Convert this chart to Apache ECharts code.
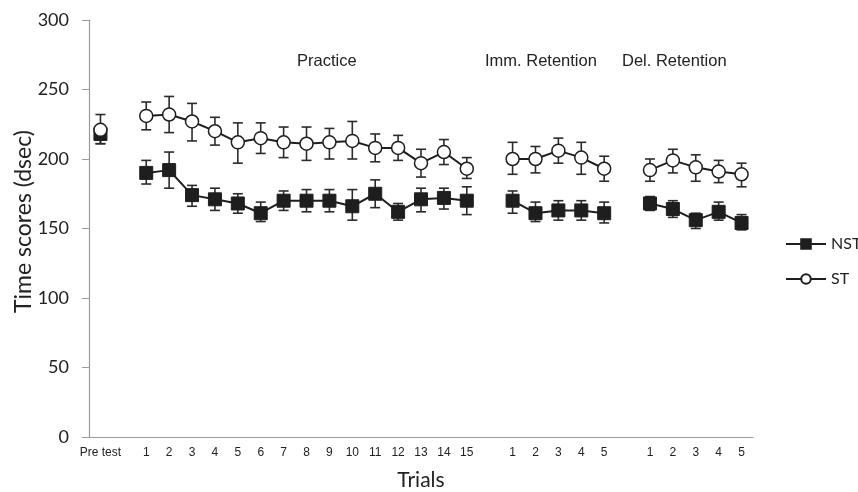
<!DOCTYPE html>
<html>
<head>
<meta charset="utf-8">
<script src="https://cdn.jsdelivr.net/npm/echarts@6/dist/echarts.min.js"></script>
<style>
  html, body { margin: 0; padding: 0; background: #fff; }
  #chart { width: 858px; height: 492px; }
</style>
</head>
<body>
<div id="chart"></div>
<script>
// trial labels, '' = gap between phases
var categories = ['Pre test', '',
  '1', '2', '3', '4', '5', '6', '7', '8', '9', '10', '11', '12', '13', '14', '15', '',
  '1', '2', '3', '4', '5', '',
  '1', '2', '3', '4', '5'];

var nstMean = [218, null, 190, 192, 174, 171, 168, 161, 170, 170, 170, 166, 175, 162, 171, 172, 170, null, 170, 161, 163, 163, 161, null, 168, 164, 156, 162, 154];
var nstHigh = [223, null, 199, 205, 181, 179, 175, 169, 177, 178, 178, 178, 185, 168, 179, 179, 180, null, 177, 169, 170, 170, 169, null, 173, 170, 161, 169, 160];
var nstLow  = [211, null, 182, 179, 166, 163, 161, 155, 163, 162, 162, 156, 165, 156, 162, 164, 160, null, 161, 155, 156, 156, 154, null, 163, 158, 150, 156, 149];

var stMean = [221, null, 231, 232, 227, 220, 212, 215, 212, 211, 212, 213, 208, 208, 197, 205, 193, null, 200, 200, 206, 201, 193, null, 192, 199, 194, 191, 189];
var stHigh = [232, null, 241, 245, 240, 230, 226, 226, 223, 223, 222, 227, 218, 217, 207, 214, 201, null, 212, 209, 215, 212, 202, null, 200, 207, 203, 199, 197];
var stLow  = [211, null, 221, 219, 213, 210, 197, 204, 201, 199, 200, 200, 198, 199, 187, 196, 186, null, 189, 190, 197, 189, 184, null, 184, 190, 184, 183, 180];

var phaseLabels = ['Practice', 'Imm. Retention', 'Del. Retention'];
var yTicks = { min: 0, max: 300, interval: 50 };

function errData(lo, hi) {
  var out = [];
  for (var i = 0; i < lo.length; i++) {
    if (lo[i] != null) out.push([i, lo[i], hi[i]]);
  }
  return out;
}

function renderErr(params, api) {
  var x = api.value(0);
  var lo = api.coord([x, api.value(1)]);
  var hi = api.coord([x, api.value(2)]);
  var w = 5;
  var style = { stroke: '#2b2b2b', lineWidth: 1.6 };
  return {
    type: 'group',
    children: [
      { type: 'line', shape: { x1: hi[0], y1: hi[1], x2: lo[0], y2: lo[1] }, style: style },
      { type: 'line', shape: { x1: hi[0] - w, y1: hi[1], x2: hi[0] + w, y2: hi[1] }, style: style },
      { type: 'line', shape: { x1: lo[0] - w, y1: lo[1], x2: lo[0] + w, y2: lo[1] }, style: style }
    ]
  };
}

var myChart = echarts.init(document.getElementById('chart'), null, { renderer: 'canvas' });

var option = {
  backgroundColor: '#fff',
  animation: false,
  grid: { left: 89, right: 105, top: 20, bottom: 55, outerBoundsMode: 'none', containLabel: false },
  legend: {
    orient: 'vertical',
    left: 780,
    top: 231,
    itemWidth: 40,
    itemHeight: 12,
    itemGap: 19,
    data: ['NST', 'ST'],
    textStyle: { fontFamily: 'Lato', fontSize: 16, color: '#222' }
  },
  graphic: [
    { type: 'text', left: 297, top: 53, style: { text: phaseLabels[0], font: '16.5px "Liberation Sans"', fill: '#222' } },
    { type: 'text', left: 485, top: 53, style: { text: phaseLabels[1], font: '16.5px "Liberation Sans"', fill: '#222' } },
    { type: 'text', left: 622, top: 53, style: { text: phaseLabels[2], font: '16.5px "Liberation Sans"', fill: '#222' } }
  ],
  xAxis: {
    type: 'category',
    data: categories,
    boundaryGap: true,
    name: 'Trials',
    nameLocation: 'middle',
    nameGap: 33,
    nameTextStyle: { fontFamily: 'Lato', fontSize: 21, color: '#222' },
    axisLine: { lineStyle: { color: '#9a9a9a', width: 1.2 } },
    axisTick: { alignWithLabel: true, interval: 0, length: 4, lineStyle: { color: '#9a9a9a' } },
    axisLabel: { interval: 0, margin: 10, fontFamily: 'Liberation Sans', fontSize: 12, color: '#222' },
    splitLine: { show: false }
  },
  yAxis: {
    type: 'value',
    min: yTicks.min,
    max: yTicks.max,
    interval: yTicks.interval,
    name: 'Time scores (dsec)',
    nameLocation: 'middle',
    nameGap: 54,
    nameMoveOverlap: false,
    nameTextStyle: { fontFamily: 'Lato', fontSize: 23, color: '#222', padding: [0, 0, 0, 14] },
    axisLine: { show: true, lineStyle: { color: '#9a9a9a', width: 1.2 } },
    axisTick: { show: true, length: 7, lineStyle: { color: '#9a9a9a' } },
    axisLabel: { margin: 20, fontFamily: 'Lato', fontSize: 18, color: '#222' },
    splitLine: { show: false }
  },
  series: [
    {
      name: 'NST-err',
      type: 'custom',
      renderItem: renderErr,
      data: errData(nstLow, nstHigh),
      encode: { x: 0, y: [1, 2] },
      z: 1,
      silent: true
    },
    {
      name: 'ST-err',
      type: 'custom',
      renderItem: renderErr,
      data: errData(stLow, stHigh),
      encode: { x: 0, y: [1, 2] },
      z: 1,
      silent: true
    },
    {
      name: 'NST',
      type: 'line',
      data: nstMean,
      connectNulls: false,
      symbol: 'rect',
      symbolSize: 13,
      lineStyle: { color: '#1e1e1e', width: 2 },
      itemStyle: { color: '#1e1e1e', borderColor: '#1e1e1e', borderWidth: 1 },
      z: 3
    },
    {
      name: 'ST',
      type: 'line',
      data: stMean,
      connectNulls: false,
      symbol: 'circle',
      symbolSize: 13,
      lineStyle: { color: '#1e1e1e', width: 2 },
      itemStyle: { color: '#fff', borderColor: '#1e1e1e', borderWidth: 1.5 },
      z: 4
    }
  ]
};

option && "object" == typeof option && myChart.setOption(option, true);
</script>
</body>
</html>
